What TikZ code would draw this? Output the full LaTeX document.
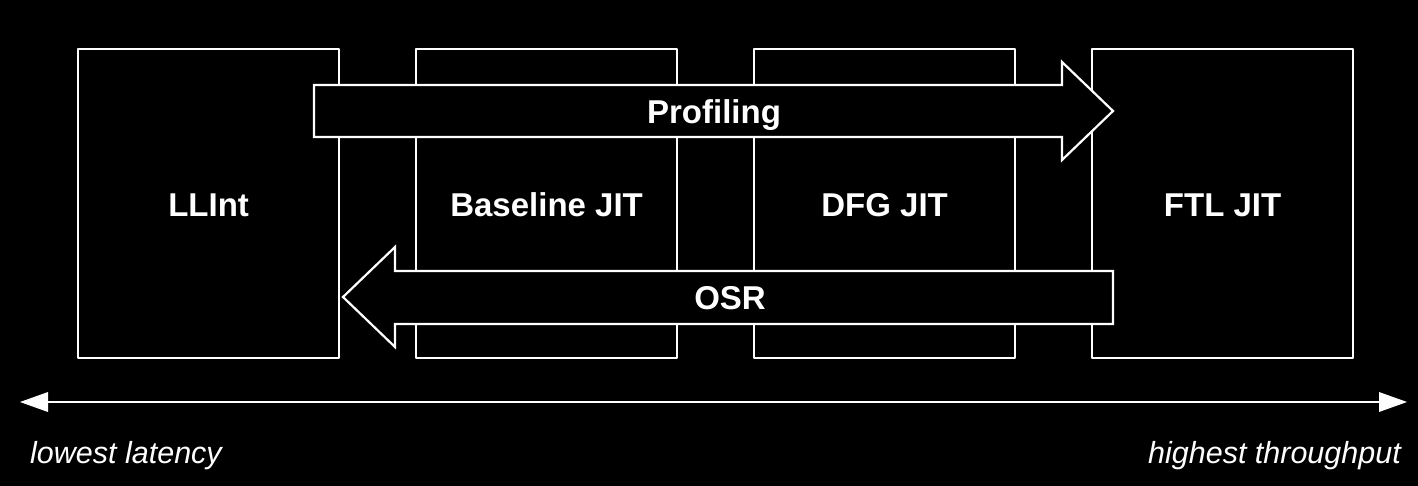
\documentclass[tikz,border=0pt]{standalone}
\usepackage{fontspec}
\setmainfont{Liberation Sans}
\begin{document}
\begin{tikzpicture}[x=1pt,y=-1pt,
  tier/.style={draw=white,line width=2.2pt,fill=black,line join=round,minimum width=261pt,minimum height=309pt,inner sep=0pt,anchor=north west},
  bigarrow/.style={draw=white,line width=2.2pt,fill=black,line join=miter},
  lbl/.style={text=white,font=\bfseries\fontsize{33}{38}\selectfont,inner sep=0pt,anchor=base},
  axislbl/.style={text=white,font=\itshape\fontsize{30.5}{35}\selectfont,inner sep=0pt},
  axis/.style={draw=white,line width=2.4pt}]
\fill[black] (0,0) rectangle (1418,486);
\useasboundingbox (0,0) rectangle (1418,486);
% tiers
\node[tier] (llint) at (77,48) {};
\node[tier] (base) at (415,48) {};
\node[tier] (dfg) at (753,48) {};
\node[tier] (ftl) at (1091,48) {};
\node[lbl] (tllint) at (llint.center |- 0,217) {LLInt};
\node[lbl] (tbase) at (base.center |- 0,217) {Baseline JIT};
\node[lbl] (tdfg) at (dfg.center |- 0,217) {DFG JIT};
\node[lbl] (tftl) at (ftl.center |- 0,217) {FTL JIT};
% profiling arrow
\draw[bigarrow] (314,85) -- (1062,85) -- (1062,62) -- (1113,111) -- (1062,160) -- (1062,137) -- (314,137) -- cycle;
\node[lbl] (prof) at (714,123.5) {Profiling};
% OSR arrow
\draw[bigarrow] (1113,271) -- (395,271) -- (395,247) -- (343,297) -- (395,347) -- (395,324) -- (1113,324) -- cycle;
\node[lbl] (osr) at (730,309) {OSR};
% axis
\coordinate (axl) at (20,402);
\coordinate (axr) at (1407,402);
\draw[axis] (axl) ++(20,0) -- ([xshift=-20]axr);
\fill[white] (axl) -- ++(28,-10) -- ++(0,20) -- cycle;
\fill[white] (axr) -- ++(-28,-10) -- ++(0,20) -- cycle;
\node[axislbl,anchor=base west] (lo) at (30,463) {lowest latency};
\node[axislbl,anchor=base east] (hi) at (1401,463) {highest throughput};
\end{tikzpicture}
\end{document}
